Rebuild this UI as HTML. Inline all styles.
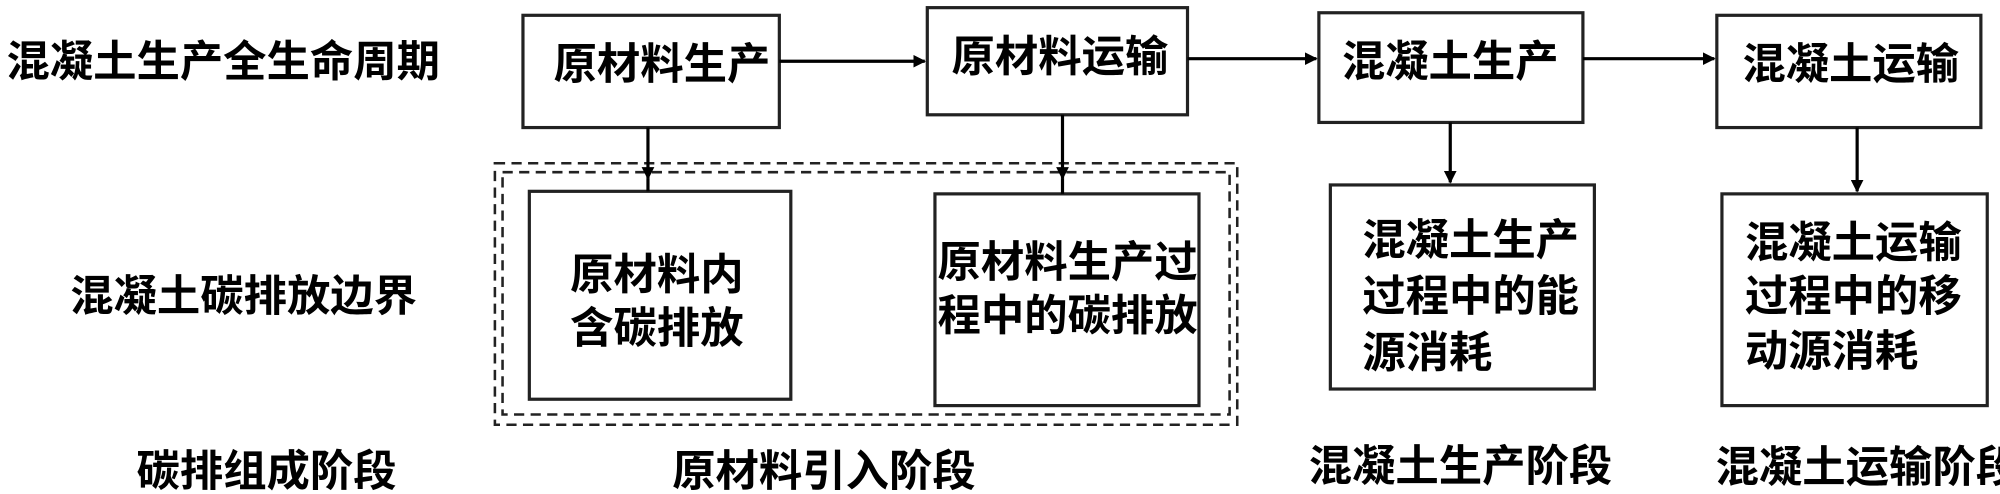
<!DOCTYPE html>
<html><head><meta charset="utf-8"><style>
html,body{margin:0;padding:0;background:#fff;}
svg{display:block}
text{font-family:"Liberation Sans","Noto Sans CJK SC",sans-serif;font-weight:bold;font-size:34px;fill:#000;}
</style></head><body>
<svg width="2000" height="494" viewBox="0 0 1568 387.3" preserveAspectRatio="none" xmlns="http://www.w3.org/2000/svg">
<defs>
<marker id="a" markerWidth="10" markerHeight="10" refX="9" refY="5" orient="auto" markerUnits="userSpaceOnUse" viewBox="0 0 10 10">
<path d="M0,0 L10,5 L0,10 Z" fill="#000"/>
</marker>
</defs>
<g fill="none" stroke="#222" stroke-width="2.5">
<rect x="410" y="12" width="201" height="88"/>
<rect x="727" y="6" width="204" height="84"/>
<rect x="1034" y="10" width="207" height="86"/>
<rect x="1346" y="12" width="207" height="88"/>
<rect x="415" y="150" width="205" height="163"/>
<rect x="733" y="152" width="207" height="166"/>
<rect x="1043" y="145" width="207" height="160"/>
<rect x="1350" y="152" width="208" height="166"/>
<rect x="388" y="128" width="582" height="205" stroke-dasharray="8,5" stroke-width="2"/>
<rect x="394" y="135" width="570" height="190" stroke-dasharray="8,5" stroke-width="2"/>
</g>
<g stroke="#000" stroke-width="2.5" marker-end="url(#a)">
<line x1="611" y1="48" x2="725" y2="48"/>
<line x1="931" y1="46" x2="1032" y2="46"/>
<line x1="1241" y1="46" x2="1344" y2="46"/>
<line x1="508" y1="100" x2="508" y2="140"/>
<line x1="833" y1="90" x2="833" y2="140"/>
<line x1="1137" y1="96" x2="1137" y2="143"/>
<line x1="1456" y1="100" x2="1456" y2="150"/>
</g>
<g stroke="#000" stroke-width="2.5">
<line x1="508" y1="140" x2="508" y2="150"/>
<line x1="833" y1="140" x2="833" y2="152"/>
</g>
<text x="5" y="60">混凝土生产全生命周期</text>
<text x="55" y="244">混凝土碳排放边界</text>
<text x="107" y="484" font-size="36">碳排组成阶段</text>
<text x="434" y="62">原材料生产</text>
<text x="746" y="56">原材料运输</text>
<text x="1052" y="60">混凝土生产</text>
<text x="1366" y="62">混凝土运输</text>
<text x="447" y="227">原材料内</text>
<text x="447" y="269">含碳排放</text>
<text x="735" y="217">原材料生产过</text>
<text x="735" y="259">程中的碳排放</text>
<text x="1068" y="200">混凝土生产</text>
<text x="1068" y="244">过程中的能</text>
<text x="1068" y="288">源消耗</text>
<text x="1368" y="202">混凝土运输</text>
<text x="1368" y="244">过程中的移</text>
<text x="1368" y="287">动源消耗</text>
<text x="107" y="381" font-size="36">碳排组成阶段</text>
<text x="527" y="381" font-size="36">原材料引入阶段</text>
<text x="1026" y="377" font-size="36">混凝土生产阶段</text>
<text x="1345" y="378" font-size="36">混凝土运输阶段</text>
</svg>
</body></html>
